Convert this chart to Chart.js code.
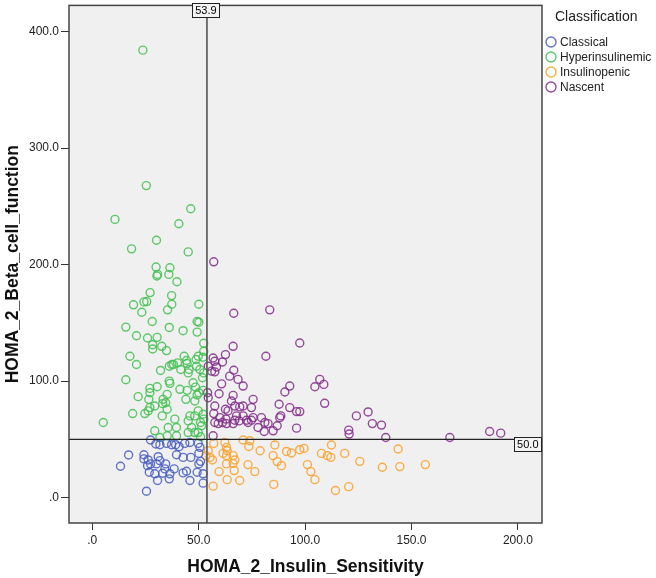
<!DOCTYPE html>
<html>
<head>
<meta charset="utf-8">
<script src="https://cdn.jsdelivr.net/npm/chart.js@4.4.1/dist/chart.umd.min.js"></script>
<style>
html,body{margin:0;padding:0;background:#fff;}
canvas{display:block;}
</style>
</head>
<body>
<canvas id="c" width="656" height="578"></canvas>
<script>
// ---- data (x = HOMA_2_Insulin_Sensitivity, y = HOMA_2_Beta_cell_function) ----
const categories = ['Classical', 'Hyperinsulinemic', 'Insulinopenic', 'Nascent'];
const legendTitle = 'Classification';
const xTitle = 'HOMA_2_Insulin_Sensitivity';
const yTitle = 'HOMA_2_Beta_cell_function';
const xTicks = [0, 50, 100, 150, 200];
const yTicks = [0, 100, 200, 300, 400];
const xRange = [-10.9, 211.3];
const yRange = [-21.7, 422.4];
const refX = 53.9;
const refY = 50.0;

const classical = [
  [27.4,49.5],[31.8,45.5],[29.9,46.1],[34.9,46.6],[37.3,45.5],[39.2,45.5],[40.8,43.8],[43.5,46.6],
  [45.9,47.4],[49.8,46.6],[50.6,43.2],[50.1,38.0],[17.1,36.7],[24.3,36.9],[24.3,33.3],[26.3,32.4],
  [31.0,35.2],[31.8,31.8],[39.6,36.9],[42.7,34.6],[46.3,34.6],[50.9,31.2],[50.1,29.0],[13.3,27.0],
  [26.0,27.5],[27.4,29.0],[34.5,29.0],[34.1,24.7],[26.8,21.8],[29.4,20.5],[33.1,21.0],[36.5,20.5],
  [36.2,16.2],[42.7,21.3],[44.3,22.7],[45.9,14.8],[49.3,21.8],[52.1,20.5],[52.1,12.5],[25.5,5.6],
  [30.7,14.8],[38.5,24.7],[30.2,29.0]
];
const hyperinsulinemic = [
  [23.8,384.0],[25.4,267.8],[46.3,247.9],[10.7,238.8],[40.7,235.1],[30.2,220.9],[18.5,213.5],[45.1,210.9],
  [30.0,197.9],[36.5,197.3],[30.7,191.6],[30.4,190.2],[36.0,191.6],[39.8,185.3],[27.2,176.0],[37.3,173.4],
  [19.4,165.5],[24.3,168.0],[25.6,168.3],[37.4,166.0],[50.1,166.0],[23.3,159.1],[35.4,161.2],[28.2,151.2],
  [49.3,151.2],[50.1,150.6],[36.2,146.1],[42.7,143.3],[49.3,142.1],[15.8,146.4],[20.8,139.0],[26.0,137.0],
  [30.5,137.6],[28.4,131.3],[28.4,127.6],[32.7,129.9],[34.9,126.2],[52.4,132.5],[17.7,121.4],[20.8,114.3],
  [43.2,121.4],[44.3,117.7],[44.6,115.1],[40.1,115.7],[38.2,114.3],[36.2,112.8],[37.4,114.3],[48.8,118.6],
  [49.8,121.4],[52.4,125.6],[52.0,120.5],[41.6,110.0],[32.1,109.2],[45.5,110.0],[45.1,107.1],[49.0,112.8],
  [50.6,110.0],[52.4,107.1],[51.8,102.9],[15.8,101.2],[36.2,100.0],[36.5,98.1],[41.2,93.0],[44.6,92.1],
  [48.5,94.9],[47.4,98.6],[50.1,90.1],[52.1,92.1],[27.1,93.8],[27.1,90.1],[30.5,95.2],[21.6,86.7],
  [26.6,84.4],[35.2,88.7],[33.3,84.4],[44.0,84.4],[48.2,83.0],[49.3,88.1],[34.5,81.5],[33.1,80.7],
  [27.1,77.3],[26.3,74.5],[29.4,78.7],[19.0,72.2],[24.7,72.2],[35.2,75.9],[32.9,70.2],[49.8,74.5],
  [48.2,70.2],[52.1,71.6],[52.4,67.4],[45.9,70.2],[45.1,65.9],[50.9,64.5],[51.4,61.7],[38.8,67.4],
  [5.2,64.5],[35.7,60.2],[39.6,60.2],[29.4,57.4],[46.7,60.2],[49.8,55.9],[48.2,55.9],[45.1,55.9],
  [35.2,53.1],[39.6,53.1],[31.8,51.7],[50.9,52.3]
];
const insulinopenic = [
  [57.1,46.6],[54.5,40.3],[53.4,36.1],[56.5,32.4],[62.3,47.4],[63.1,43.2],[63.4,40.3],[61.5,38.0],
  [63.1,36.1],[66.2,36.1],[67.0,32.4],[63.1,29.0],[66.2,29.5],[66.7,23.3],[59.6,22.4],[63.4,15.5],
  [69.3,14.8],[56.8,9.9],[70.9,49.5],[73.6,44.0],[78.9,40.3],[73.2,28.4],[76.4,22.4],[85.8,45.2],
  [85.0,36.1],[86.9,31.0],[88.9,27.5],[91.3,39.7],[93.6,38.4],[97.5,41.2],[99.5,42.3],[85.3,11.4],
  [101.1,28.4],[102.7,22.4],[104.6,15.5],[107.7,38.0],[110.5,36.1],[112.1,34.6],[112.4,45.2],[118.6,38.0],
  [125.7,31.2],[114.3,6.2],[120.5,9.5],[136.3,26.1],[143.7,41.8],[144.5,26.7],[156.5,28.4],[74.0,48.9],
  [55.3,34.6]
];
const nascent = [
  [57.1,202.4],[66.5,158.3],[83.4,161.2],[97.5,132.7],[66.2,129.9],[81.6,121.4],[56.8,119.9],[57.6,117.1],
  [61.2,116.5],[62.6,122.8],[54.5,112.8],[56.1,108.6],[57.6,108.0],[58.4,112.2],[66.5,109.4],[64.6,104.3],
  [68.5,101.5],[60.8,97.7],[70.9,95.8],[54.2,90.1],[54.5,85.8],[66.2,87.8],[65.4,83.0],[75.6,84.4],
  [57.6,78.7],[62.6,75.9],[67.0,78.7],[69.3,77.9],[70.9,78.7],[74.8,77.3],[63.8,74.5],[67.8,70.2],
  [70.9,70.2],[60.0,68.7],[57.6,64.5],[59.2,63.6],[62.8,67.4],[63.1,63.6],[61.2,64.5],[67.0,66.5],
  [66.2,63.6],[72.5,66.5],[75.6,68.7],[74.8,66.5],[79.5,68.7],[81.1,64.5],[82.6,63.6],[86.9,61.7],
  [88.1,68.7],[85.0,57.4],[77.9,60.2],[80.8,56.8],[56.8,53.1],[106.9,101.5],[104.6,95.2],[108.8,97.2],
  [92.8,95.8],[90.5,90.7],[59.6,89.2],[87.8,80.2],[92.8,77.3],[88.6,70.2],[109.2,81.0],[96.0,73.9],
  [97.5,73.9],[96.0,59.7],[124.1,70.2],[129.6,73.6],[131.6,63.6],[135.9,62.3],[120.5,58.0],[120.7,54.6],
  [137.9,51.7],[57.1,72.2],[168.0,51.7],[186.7,56.8],[191.9,55.4],[69.0,65.9],[73.2,64.5]
];
const seriesData = [classical, hyperinsulinemic, insulinopenic, nascent];
const seriesColors = ['rgba(70,92,190,0.85)', 'rgba(66,192,80,0.85)', 'rgba(250,160,40,0.85)', 'rgba(128,44,136,0.85)'];

// ---- helpers ----
const FONT = '"Liberation Sans", Arial, sans-serif';
const fmt = v => (v === 0 ? '.0' : Number(v).toFixed(1));

const bgPlugin = {
  id: 'bg',
  beforeDatasetsDraw(chart) {
    const {ctx, chartArea: a} = chart;
    ctx.save();
    ctx.fillStyle = '#F0F0F0';
    ctx.fillRect(a.left, a.top, a.right - a.left, a.bottom - a.top);
    ctx.restore();
  }
};

function boxedLabel(ctx, text, cx, cy) {
  ctx.font = '11px ' + FONT;
  const w = ctx.measureText(text).width + 6;
  const h = 14;
  ctx.fillStyle = '#F4F4F4';
  ctx.fillRect(cx - w / 2, cy - h / 2, w, h);
  ctx.strokeStyle = '#222';
  ctx.lineWidth = 1;
  ctx.strokeRect(Math.round(cx - w / 2) + 0.5, Math.round(cy - h / 2) + 0.5, Math.round(w), h);
  ctx.fillStyle = '#000';
  ctx.textAlign = 'center';
  ctx.textBaseline = 'middle';
  ctx.fillText(text, cx, cy + 0.5);
  return w;
}

const refPlugin = {
  id: 'refs',
  afterDatasetsDraw(chart) {
    const {ctx, chartArea: a, scales: {x, y}} = chart;
    const px = x.getPixelForValue(refX);
    const py = y.getPixelForValue(refY);
    ctx.save();
    // vertical reference line
    ctx.strokeStyle = '#555';
    ctx.lineWidth = 1.6;
    ctx.beginPath();
    ctx.moveTo(px, a.top);
    ctx.lineTo(px, a.bottom);
    ctx.stroke();
    // horizontal reference line
    ctx.strokeStyle = '#222';
    ctx.lineWidth = 1.3;
    ctx.beginPath();
    ctx.moveTo(a.left, py);
    ctx.lineTo(a.right, py);
    ctx.stroke();
    // frame
    ctx.strokeStyle = '#444';
    ctx.lineWidth = 1.5;
    ctx.strokeRect(a.left, a.top, a.right - a.left, a.bottom - a.top);
    // labels
    boxedLabel(ctx, fmt(refX), px - 1, a.top + 5);
    ctx.font = '11px ' + FONT;
    const w = ctx.measureText(fmt(refY)).width + 6;
    boxedLabel(ctx, fmt(refY), a.right - w / 2 - 0.5, py + 5);
    ctx.restore();
  }
};

const legendPlugin = {
  id: 'customLegend',
  afterDraw(chart) {
    const {ctx} = chart;
    ctx.save();
    ctx.fillStyle = '#222';
    ctx.font = '14px ' + FONT;
    ctx.textAlign = 'left';
    ctx.textBaseline = 'middle';
    ctx.fillText(legendTitle, 555, 17);
    ctx.font = '12px ' + FONT;
    chart.data.datasets.forEach((ds, i) => {
      const yy = 42 + i * 15;
      ctx.strokeStyle = ds.borderColor;
      ctx.lineWidth = 1.4;
      ctx.beginPath();
      ctx.arc(551, yy, 5, 0, Math.PI * 2);
      ctx.stroke();
      ctx.fillStyle = '#222';
      ctx.fillText(ds.label, 560, yy + 0.5);
    });
    ctx.restore();
  }
};

const datasets = categories.map((name, i) => ({
  label: name,
  data: seriesData[i].map(p => ({x: p[0], y: p[1]})),
  borderColor: seriesColors[i],
  backgroundColor: 'rgba(0,0,0,0)',
  pointRadius: 4,
  pointBorderWidth: 1.4,
  pointHoverRadius: 4,
  showLine: false
}));

new Chart(document.getElementById('c'), {
  type: 'scatter',
  data: {datasets},
  options: {
    responsive: false,
    animation: false,
    devicePixelRatio: 1,
    layout: {padding: {left: 0, right: 114, top: 2, bottom: 0}},
    plugins: {legend: {display: false}, tooltip: {enabled: false}},
    scales: {
      x: {
        type: 'linear',
        min: xRange[0], max: xRange[1],
        afterBuildTicks: s => { s.ticks = xTicks.map(v => ({value: v})); },
        afterFit: s => { s.height = 55; s.paddingLeft = 0; s.paddingRight = 0; },
        ticks: {callback: v => fmt(v), color: '#222', font: {family: FONT, size: 12}, padding: 3, maxRotation: 0},
        grid: {drawOnChartArea: false, drawTicks: true, tickLength: 7, color: '#333', lineWidth: 1},
        border: {display: false},
        title: {display: true, text: xTitle, color: '#111', font: {family: FONT, size: 17.5, weight: 'bold'}, padding: {top: 0, bottom: 0}}
      },
      y: {
        type: 'linear',
        min: yRange[0], max: yRange[1],
        afterBuildTicks: s => { s.ticks = yTicks.map(v => ({value: v})); },
        afterFit: s => { s.width = 69; s.paddingTop = 0; s.paddingBottom = 0; },
        ticks: {callback: v => fmt(v), color: '#222', font: {family: FONT, size: 12}, padding: 2},
        grid: {drawOnChartArea: false, drawTicks: true, tickLength: 8, color: '#333', lineWidth: 1},
        border: {display: false},
        title: {display: true, text: yTitle, color: '#111', font: {family: FONT, size: 17.5, weight: 'bold'}, padding: {top: 2.5, bottom: 0}}
      }
    }
  },
  plugins: [bgPlugin, refPlugin, legendPlugin]
});
</script>
</body>
</html>
